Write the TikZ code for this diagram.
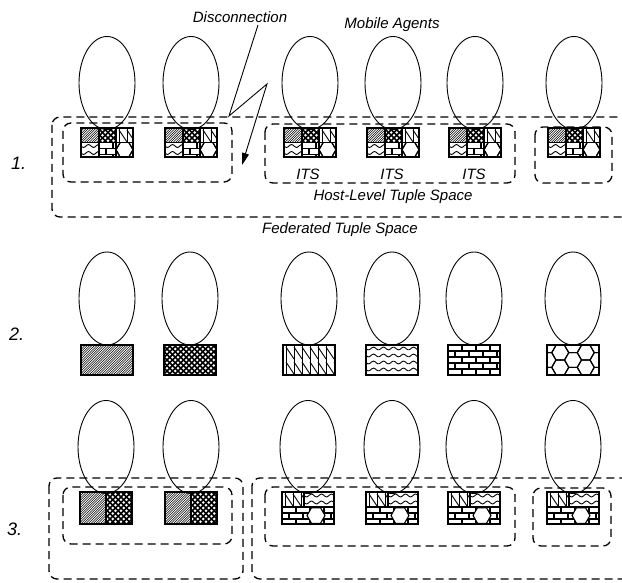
\documentclass[tikz,border=0pt]{standalone}
\usepackage{fontspec}
\setmainfont{Liberation Sans}
\usetikzlibrary{shapes.geometric,arrows.meta}
\tikzset{
 agent/.style={draw, ellipse, line width=0.9pt, minimum width=56pt, minimum height=93pt, inner sep=0pt},
 tspace/.style={draw, line width=1.3pt, dash pattern=on 8pt off 5pt, rounded corners=8pt},
 lbl/.style={font=\itshape\fontsize{15}{18}\selectfont, inner sep=0pt},
 rownum/.style={font=\itshape\fontsize{18}{21}\selectfont, inner sep=0pt, anchor=west},
 boxline/.style={line width=1.2pt},
 patline/.style={line width=0.9pt},
 bolt/.style={line width=0.9pt, -{Triangle[length=12pt,width=7pt]}},
}
% ---------- patterns: #1 x1, #2 y1, #3 x2, #4 y2 ----------
\newcommand{\pathatch}[4]{%
 \begin{scope}
  \clip (#1,#2) rectangle (#3,#4);
  \foreach \k in {0,2.4,...,96} \draw[line width=0.55pt] ({#1+\k-40},#4) -- ++(40,-40);
 \end{scope}}
\newcommand{\patcheck}[4]{%
 \begin{scope}
  \clip (#1,#2) rectangle (#3,#4);
  \foreach \k in {0,5.5,...,100} {
   \draw[line width=1.5pt] ({#1+\k-45},#4) -- ++(45,-45);
   \draw[line width=1.5pt] ({#1+\k-45},#2) -- ++(45,45);
  }
 \end{scope}}
\newcommand{\patvert}[4]{%
 \begin{scope}
  \clip (#1,#2) rectangle (#3,#4);
  \foreach \k in {0,8,...,56} {
   \draw[patline] ({#1+\k+3},#2) -- ({#1+\k+3},#4);
   \draw[patline] ({#1+\k+3},{#2+2}) -- ({#1+\k+11},{#2+14});
   \draw[patline] ({#1+\k+3},{#2+17}) -- ({#1+\k+11},{#2+29});
  }
 \end{scope}}
\newcommand{\patwave}[4]{%
 \begin{scope}
  \clip (#1,#2) rectangle (#3,#4);
  \pgfmathsetmacro{\wa}{#1-3}\pgfmathsetmacro{\wb}{#3+3}
  \foreach \j in {3.5,10.5,...,35} {
   \draw[patline] plot[domain=\wa:\wb, samples=40, smooth] (\x, {#2+\j+1.4*sin((\x-#1)*36)});
  }
 \end{scope}}
\newcommand{\patbrick}[4]{%
 \begin{scope}
  \clip (#1,#2) rectangle (#3,#4);
  \foreach \r in {0,...,6} {
   \pgfmathsetmacro{\yy}{#2+\r*6}
   \pgfmathsetmacro{\off}{mod(\r,2)*7}
   \draw[line width=1.1pt] (#1,\yy) -- (#3,\yy);
   \foreach \c in {0,14,...,56} \draw[line width=1.1pt] ({#1+\c+\off},\yy) -- ++(0,6);
  }
 \end{scope}}
\newcommand{\pathex}[4]{%
 \begin{scope}
  \clip (#1,#2) rectangle (#3,#4);
  \pgfmathsetmacro{\hcx}{(#1+#3)/2}\pgfmathsetmacro{\hcy}{(#2+#4)/2}
  \foreach \i in {-3,...,3} \foreach \j in {-2,...,2} {
   \pgfmathsetmacro{\px}{\hcx+\i*12.75}
   \pgfmathsetmacro{\py}{\hcy+(\j+0.5*mod(abs(\i),2))*14.72}
   \draw[line width=1.1pt] (\px,\py) +(8.5,0) -- +(4.25,7.36) -- +(-4.25,7.36) -- +(-8.5,0) -- +(-4.25,-7.36) -- +(4.25,-7.36) -- cycle;
  }
 \end{scope}}
% ---------- boxes ----------
\newcommand{\boxA}[2]{% row 1: six cells, 52 x 29
 \pgfmathsetmacro{\qa}{#1}\pgfmathsetmacro{\qb}{#1+18}\pgfmathsetmacro{\qc}{#1+35}\pgfmathsetmacro{\qd}{#1+52}
 \pgfmathsetmacro{\qy}{#2}\pgfmathsetmacro{\qm}{#2+14.5}\pgfmathsetmacro{\qe}{#2+29}
 \pathatch{\qa}{\qy}{\qb}{\qm}\patcheck{\qb}{\qy}{\qc}{\qm}\patvert{\qc}{\qy}{\qd}{\qm}
 \patwave{\qa}{\qm}{\qb}{\qe}\patbrick{\qb}{\qm}{\qc}{\qe}\pathex{\qc}{\qm}{\qd}{\qe}
 \draw[boxline] (\qa,\qy) rectangle (\qd,\qe);
 \draw[boxline] (\qa,\qm) -- (\qd,\qm) (\qb,\qy) -- (\qb,\qe) (\qc,\qy) -- (\qc,\qe);}
\newcommand{\boxB}[3]{% row 2: one pattern, 52 x 30
 \pgfmathsetmacro{\qa}{#1}\pgfmathsetmacro{\qy}{#2}\pgfmathsetmacro{\qd}{#1+52}\pgfmathsetmacro{\qe}{#2+30}
 #3{\qa}{\qy}{\qd}{\qe}
 \draw[boxline] (\qa,\qy) rectangle (\qd,\qe);}
\newcommand{\boxC}[2]{% row 3 left group: two halves, 52 x 32
 \pgfmathsetmacro{\qa}{#1}\pgfmathsetmacro{\qb}{#1+26}\pgfmathsetmacro{\qd}{#1+52}
 \pgfmathsetmacro{\qy}{#2}\pgfmathsetmacro{\qe}{#2+32}
 \pathatch{\qa}{\qy}{\qb}{\qe}\patcheck{\qb}{\qy}{\qd}{\qe}
 \draw[boxline] (\qa,\qy) rectangle (\qd,\qe) (\qb,\qy) -- (\qb,\qe);}
\newcommand{\boxD}[2]{% row 3 right group: four patterns, 52 x 32
 \pgfmathsetmacro{\qa}{#1}\pgfmathsetmacro{\qb}{#1+22}\pgfmathsetmacro{\qd}{#1+52}
 \pgfmathsetmacro{\qy}{#2}\pgfmathsetmacro{\qm}{#2+15}\pgfmathsetmacro{\qe}{#2+32}
 \pgfmathsetmacro{\hx}{#1+34}\pgfmathsetmacro{\hy}{#2+23.5}
 \patvert{\qa}{\qy}{\qb}{\qm}\patwave{\qb}{\qy}{\qd}{\qm}\patbrick{\qa}{\qm}{\qd}{\qe}
 \begin{scope}
  \clip (\qa,\qy) rectangle (\qd,\qe);
  \draw[line width=1.1pt, fill=white] (\hx,\hy) +(9,0) -- +(4.5,7.8) -- +(-4.5,7.8) -- +(-9,0) -- +(-4.5,-7.8) -- +(4.5,-7.8) -- cycle;
 \end{scope}
 \draw[boxline] (\qa,\qy) rectangle (\qd,\qe);
 \draw[boxline] (\qa,\qm) -- (\qd,\qm) (\qb,\qy) -- (\qb,\qm);}
\begin{document}
\begin{tikzpicture}[x=1pt,y=-1pt]
\useasboundingbox (0,0) rectangle (622,583);
\clip (0,0) rectangle (622,583);
% ===== row 1 =====
\foreach \c/\n in {107/a,191/b,310/c,393/d,475/e,574/f} \node[agent] (ra\n) at (\c,83) {};
\draw[tspace] (52,117) rectangle (660,217);
\draw[tspace] (63,123) rectangle (232,182);
\draw[tspace] (265,124) rectangle (515,183);
\draw[tspace] (535,127) rectangle (612,183);
\foreach \l in {81,165,284,367,449,548} \boxA{\l}{128};
\node[lbl] (disc) at (240,17) {Disconnection};
\node[lbl] (mob) at (392,25) {Mobile Agents};
\node[lbl] (its1) at (308,174) {ITS};
\node[lbl] (its2) at (392,174) {ITS};
\node[lbl] (its3) at (474,174) {ITS};
\node[lbl] (hlts) at (393,197) {Host-Level Tuple Space};
\node[lbl] (fts) at (340,230) {Federated Tuple Space};
\node[rownum] (n1) at (11,163) {1.};
\coordinate (b0) at (258,25);
\coordinate (bA) at (229,116);
\coordinate (bB) at (267,84);
\coordinate (bT) at (242,165);
\draw[bolt] (b0) -- (bA) -- (bB) -- (bT);
% ===== row 2 =====
\foreach \c/\n in {107/a,190/b,309/c,392/d,474/e,573/f} \node[agent] (rb\n) at (\c,298.5) {};
\boxB{81}{345}{\pathatch}
\boxB{164}{345}{\patcheck}
\boxB{283}{345}{\patvert}
\boxB{366}{345}{\patwave}
\boxB{448}{345}{\patbrick}
\boxB{547}{345}{\pathex}
\node[rownum] (n2) at (9,334) {2.};
% ===== row 3 =====
\foreach \c/\n in {106/a,191/b,308/c,392/d,474/e,573/f} \node[agent] (rc\n) at (\c,447) {};
\draw[tspace] (49,478) rectangle (243,579);
\draw[tspace] (252,478) rectangle (660,579);
\draw[tspace] (63,487) rectangle (232,544);
\draw[tspace] (265,487) rectangle (515,546);
\draw[tspace] (533,488) rectangle (611,546);
\boxC{80}{492}
\boxC{165}{492}
\foreach \l in {282,366,448,547} \boxD{\l}{492};
\node[rownum] (n3) at (7,529) {3.};
\end{tikzpicture}
\end{document}
